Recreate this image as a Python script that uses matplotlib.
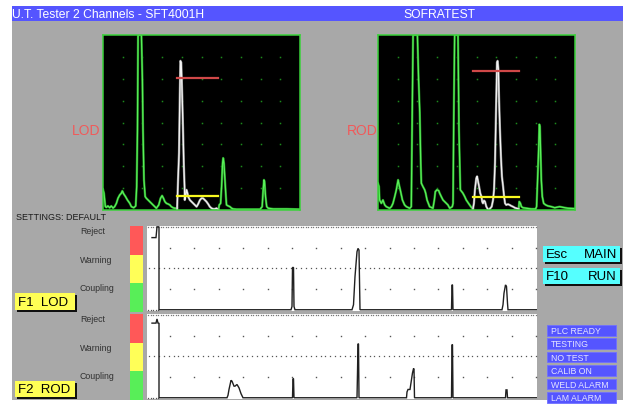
#!/usr/bin/env python
"Screen copy of the U.T. tester: two A-scans and two strip charts"

import matplotlib
matplotlib.use('Agg')
import numpy as np
import matplotlib.pyplot as plt
from matplotlib.patches import Rectangle

W, H = 623, 410

# A-scan traces, x in % of screen width, y in % of screen height
lod_green_a_x = [0, 0.5, 1.2, 1.7, 2.5, 3.4, 4.2, 5.1, 5.9, 6.8, 7.6, 8.5,
                 9.3, 9.8, 10.5, 11.4, 12.4, 13.6, 14.4, 15.6, 16.6, 17.1,
                 17.5, 17.8, 19.5, 20.0, 20.3, 20.8, 21.4, 22.0, 22.9, 23.7,
                 24.6, 25.4, 26.3, 27.1, 28.3, 29.2, 30.0, 30.7, 31.4, 32.2,
                 33.1, 33.9, 34.7, 35.6, 36.4, 37.6]
lod_green_a_y = [11.9, 9.6, 1.9, 1.5, 2.3, 1.3, 2.3, 1.1, 1.9, 3.8, 6.7, 8.6,
                 9.6, 10.9, 9.2, 7.7, 5.7, 3.8, 1.9, 1.3, 2.3, 13.4,
                 46, 100, 100, 74.7, 46, 17.2, 7.7, 6.7, 5.7, 4.8,
                 3.8, 2.9, 1.9, 1.0, 2.9, 6.7, 8.2, 6.7, 4.8, 3.8,
                 3.4, 2.9, 1.9, 1.3, 1.0, 1.0]
lod_gate_x = [37.6, 38.1, 38.6, 39.0, 39.3, 39.7, 40.2, 40.7, 41.0, 41.4,
              41.5, 42.0, 42.4, 42.9, 43.2, 44.1, 44.9, 45.8, 46.6, 47.5,
              48.3, 49.2, 50.0, 50.8, 51.7, 52.5, 53.4, 54.2, 55.1, 55.9,
              56.8, 57.6, 58.6]
lod_gate_y = [0, 17.2, 32.6, 65.1, 85.2, 84.3, 65.1, 42.1, 26.8, 13.4,
              5.7, 8.6, 11.5, 9.6, 7.7, 5.7, 4.8, 3.8, 2.9, 1.9,
              3.4, 5.7, 6.7, 6.7, 5.7, 4.8, 3.4, 1.9, 1.0, 0.6,
              0.6, 1.0, 0]
lod_green_b_x = [58.6, 59.0, 59.7, 60.2, 60.7, 61.0, 61.4, 61.9, 62.4, 62.7,
                 63.6, 64.4, 65.3, 66.1, 67.8, 79.7, 80.8, 81.2, 81.7, 82.0,
                 82.5, 83.1, 83.9, 86.4, 93.2, 100]
lod_green_b_y = [0, 2.9, 3.8, 13.4, 26.8, 29.7, 26.8, 17.2, 7.7, 2.9,
                 2.3, 1.9, 1.0, 0.6, 0.4, 0.4, 1.9, 9.6, 17.2, 16.3,
                 7.7, 1.9, 1.0, 0.6, 0.6, 0.4]
lod_gate_start, lod_gate_end = 37.6, 58.6
lod_alarm, lod_coupling = 75.3, 8.0

rod_green_a_x = [0, 0.5, 0.8, 1.7, 2.5, 3.4, 4.2, 5.9, 6.8, 7.6, 8.5, 9.3,
                 10.2, 10.7, 11.3, 12.4, 13.5, 14.4, 16.1, 16.9, 17.3, 17.8,
                 20.0, 20.6, 21.2, 21.7, 22.0, 22.8, 23.7, 24.2, 24.9, 26.2,
                 27.9, 28.6, 29.1, 29.9, 30.8, 31.3, 32.1, 33.0, 34.7, 35.5,
                 36.4, 37.7, 38.1, 38.4, 38.9, 40.6, 41.1, 41.8, 42.5, 43.1,
                 44.0, 44.8, 45.7, 46.5, 47.4, 48.2]
rod_green_a_y = [15.3, 13.4, 5.7, 3.8, 5.7, 2.9, 1.9, 1.0, 1.9, 3.8, 7.7, 11.5,
                 17.2, 14.4, 11.5, 5.7, 2.9, 1.9, 1.0, 1.9, 46, 100,
                 100, 74.7, 55.6, 26.8, 15.3, 13.4, 11.5, 9.6, 5.7, 1.9,
                 1.0, 5.7, 10.5, 11.5, 11.1, 9.6, 7.7, 5.7, 3.8, 2.9,
                 1.0, 1.9, 3.8, 46, 100, 100, 46, 11.5, 10.5, 9.6,
                 7.7, 5.7, 4.2, 2.9, 1.5, 0.6]
rod_gate_x = [48.2, 48.7, 49.2, 49.9, 50.3, 50.8, 51.3, 51.9, 52.5, 52.9,
              53.3, 53.8, 54.3, 55.0, 55.7, 56.2, 57.0, 57.7, 58.4, 58.9,
              59.4, 59.9, 60.4, 60.7, 61.1, 61.4, 61.9, 62.4, 62.9, 63.5,
              64.0, 64.5, 65.1, 66.0, 66.8, 67.7, 68.5, 69.4, 70.2, 71.4]
rod_gate_y = [0.6, 3.8, 11.5, 18.2, 19.2, 16.3, 13.4, 9.6, 7.7, 4.8,
              3.8, 5.4, 4.8, 1.9, 0.6, 0, 1.0, 1.9, 5.7, 11.5,
              26.8, 55.6, 84.3, 85.2, 80.5, 65.1, 46.0, 30.7, 19.2, 13.4,
              7.7, 3.8, 2.9, 3.3, 2.9, 2.3, 1.9, 1.3, 1.0, 0.6]
rod_green_b_x = [71.4, 71.7, 72.3, 72.8, 73.6, 75.3, 77.8, 80.0, 80.5, 81.0,
                 81.6, 81.9, 82.2, 82.6, 82.9, 83.4, 84.1, 85.1, 86.3, 88.0,
                 89.7, 92.2, 93.9, 96.4, 100]
rod_green_b_y = [0.6, 4.8, 3.8, 1.9, 1.3, 1.0, 0.6, 0.6, 1.9, 17.2,
                 36.4, 48.9, 47.9, 30.7, 17.2, 7.7, 3.8, 2.9, 2.3, 1.9,
                 1.3, 1.9, 1.5, 1.0, 0.8]
rod_gate_start, rod_gate_end = 48.2, 71.4
rod_alarm, rod_coupling = 79.5, 7.5

# strip charts, x in samples along the tube, y in % of full scale
lod_strip_x = [5, 9, 10, 12, 12, 144, 145, 145.5, 146.5, 147, 148,
               205, 206.5, 208, 210, 211, 212, 213,
               304.5, 305, 305.5, 306,
               355, 356, 357, 358.5, 359.5, 360.5, 361, 390]
lod_strip_y = [87, 87, 100, 100, 0, 0, 4, 51, 51, 4, 0,
               0, 6, 40, 70, 74, 72, 0,
               0, 30, 30, 0,
               0, 6, 20, 30, 28, 8, 0, 0]
rod_strip_x = [5, 9, 10, 11, 12, 12, 80, 81, 82, 84, 85, 87, 88, 90, 92, 94,
               96, 145.5, 146, 146.5, 147, 210, 210.5, 211, 211.5, 212,
               259.5, 260, 261, 263, 264, 265.5, 266.5, 267, 267.5,
               304.5, 305, 305.5, 306, 358.5, 359, 360, 360.5, 390]
rod_strip_y = [90, 90, 95, 90, 90, 0, 0, 3, 10, 21, 20, 14, 14, 16, 12, 5,
               0, 0, 23, 23, 0, 0, 30, 65, 65, 0,
               0, 7, 10, 10, 18, 30, 35, 35, 0,
               0, 64, 64, 0, 0, 9.5, 9.5, 0, 0]

strip_levels = ['Reject', 'Warning', 'Coupling']
status_lights = ['PLC READY', 'TESTING', 'NO TEST', 'CALIB ON',
                 'WELD ALARM', 'LAM ALARM']

plt.rcParams['font.family'] = ['Liberation Sans', 'DejaVu Sans']

fig = plt.figure(figsize=(W / 100, H / 100), dpi=100)
fig.patch.set_facecolor('white')

bg = fig.add_axes([0, 0, 1, 1])
bg.set_xlim(0, W)
bg.set_ylim(H, 0)
bg.axis('off')


def box(x0, y0, x1, y1, fc, ec='none', lw=0, z=1):
    "Filled rectangle in screen pixels"
    bg.add_patch(Rectangle((x0, y0), x1 - x0, y1 - y0, fc=fc, ec=ec,
                           lw=lw, zorder=z))


def button(x0, y0, x1, y1, fc, left, right=None, size=9.5, color='black'):
    "Raised button with a dark shadow"
    box(x0 + 1.5, y0 + 1.5, x1 + 1.5, y1 + 1.5, '#101010', z=2)
    box(x0, y0, x1, y1, fc, z=3)
    ym = (y0 + y1) / 2 + 0.5
    bg.text(x0 + 3, ym, left, fontsize=size, color=color, va='center',
            ha='left', zorder=4)
    if right:
        bg.text(x1 - 3, ym, right, fontsize=size, color=color, va='center',
                ha='right', zorder=4)


def px_axes(x0, y0, x1, y1):
    "Axes placed with screen pixel corners"
    return fig.add_axes([x0 / W, 1 - y1 / H, (x1 - x0) / W, (y1 - y0) / H])


def scope(x0, x1, green, gate, g0, g1, alarm, coupling):
    "A-scan window"
    ax = px_axes(x0, 36, x1, 211)
    ax.set_facecolor('black')
    ax.set_xlim(0, 100)
    ax.set_ylim(0, 100)
    ax.set_xticks([])
    ax.set_yticks([])
    for sp in ax.spines.values():
        sp.set_color('#3ad23a')
        sp.set_linewidth(1.1)
    gx, gy = np.meshgrid(np.arange(10, 100, 10), np.arange(12.5, 100, 12.5))
    ax.plot(gx.ravel(), gy.ravel(), ls='none', marker='s', ms=1.1,
            mew=0, color='#1c8a1c')
    for xs, ys in green:
        ax.plot(xs, ys, color='#1f8a1f', lw=1.7)
        ax.plot(xs, ys, color='#5af05a', lw=0.9)
    ax.plot(gate[0], gate[1], color='#8a8a8a', lw=1.7)
    ax.plot(gate[0], gate[1], color='#f4f4f4', lw=0.9)
    ax.plot([g0, g1], [alarm, alarm], color='#d04848', lw=1.6)
    ax.plot([g0, g1], [coupling, coupling], color='#f8f820', lw=1.6)
    return ax


def strip(y0, y1, xs, ys):
    "Strip chart of one channel"
    ax = px_axes(147, y0, 537, y1)
    ax.set_facecolor('white')
    ax.set_xlim(0, 390)
    ax.set_ylim(-1.5, 101)
    ax.set_xticks([])
    ax.set_yticks([])
    for sp in ax.spines.values():
        sp.set_visible(False)
    cols = np.arange(23, 390, 24.4)
    for lev in (25, 75):
        ax.plot(cols, [lev] * len(cols), ls='none', marker='s', ms=1,
                mew=0, color='#555555')
    dense = np.arange(2, 390, 4.9)
    ax.plot(dense, [50] * len(dense), ls='none', marker='s', ms=0.9,
            mew=0, color='#555555')
    top = np.arange(1, 390, 2.5)
    ax.plot(top, [100] * len(top), ls='none', marker='s', ms=0.9,
            mew=0, color='#777777')
    low = np.arange(1, 12, 2.5)
    ax.plot(low, [0] * len(low), ls='none', marker='s', ms=0.9,
            mew=0, color='#555555')
    ax.plot(xs, ys, color='#202020', lw=1.0, solid_joinstyle='miter')
    return ax


# screen frame
box(12, 22, 623, 401, '#a8a8a8')
box(12, 7, 623, 22, '#5555ff')
bg.text(12, 15, 'U.T. Tester 2 Channels - SFT4001H', color='white',
        fontsize=8.7, va='center', ha='left')
bg.text(403, 15, 'SOFRATEST', color='white', fontsize=8.7, va='center',
        ha='left')

# A-scans
scope(103, 300, [(lod_green_a_x, lod_green_a_y),
                 (lod_green_b_x, lod_green_b_y)],
      (lod_gate_x, lod_gate_y), lod_gate_start, lod_gate_end,
      lod_alarm, lod_coupling)
scope(378, 575, [(rod_green_a_x, rod_green_a_y),
                 (rod_green_b_x, rod_green_b_y)],
      (rod_gate_x, rod_gate_y), rod_gate_start, rod_gate_end,
      rod_alarm, rod_coupling)
bg.text(72, 131, 'LOD', color='#f05a5a', fontsize=10, va='center')
bg.text(347, 131, 'ROD', color='#f05a5a', fontsize=10, va='center')

bg.text(16, 218, 'SETTINGS: DEFAULT', color='#1a1a1a', fontsize=6.5,
        va='center')

# level bars and strip charts
for top_y, xs, ys in ((227, lod_strip_x, lod_strip_y),
                      (315, rod_strip_x, rod_strip_y)):
    for i, (name, col) in enumerate(zip(strip_levels,
                                        ['#ff5858', '#ffff58', '#58ee58'])):
        box(130, top_y + 28.5 * i, 143, top_y + 28.5 * (i + 1), col)
        bg.text(80, top_y + 5 + 28.5 * i, name, color='#303030',
                fontsize=6.3, va='center')
    strip(top_y, top_y + 85, xs, ys)

# keys
button(15, 294, 75, 311, '#ffff55', 'F1  LOD')
button(15, 382, 75, 398, '#ffff55', 'F2  ROD')
button(543, 247, 620, 263, '#55ffff', 'Esc', 'MAIN')
button(543, 269, 620, 285, '#55ffff', 'F10', 'RUN')

# status lights
for i, name in enumerate(status_lights):
    y0 = 326 + 13.4 * i
    box(547, y0, 616, y0 + 10.5, '#5555ff', ec='#7070ff', lw=0.6, z=3)
    bg.text(551, y0 + 5.6, name, color='#e4e4ff', fontsize=6.3,
            va='center', zorder=4)

fig.savefig('out.png', dpi=100)
